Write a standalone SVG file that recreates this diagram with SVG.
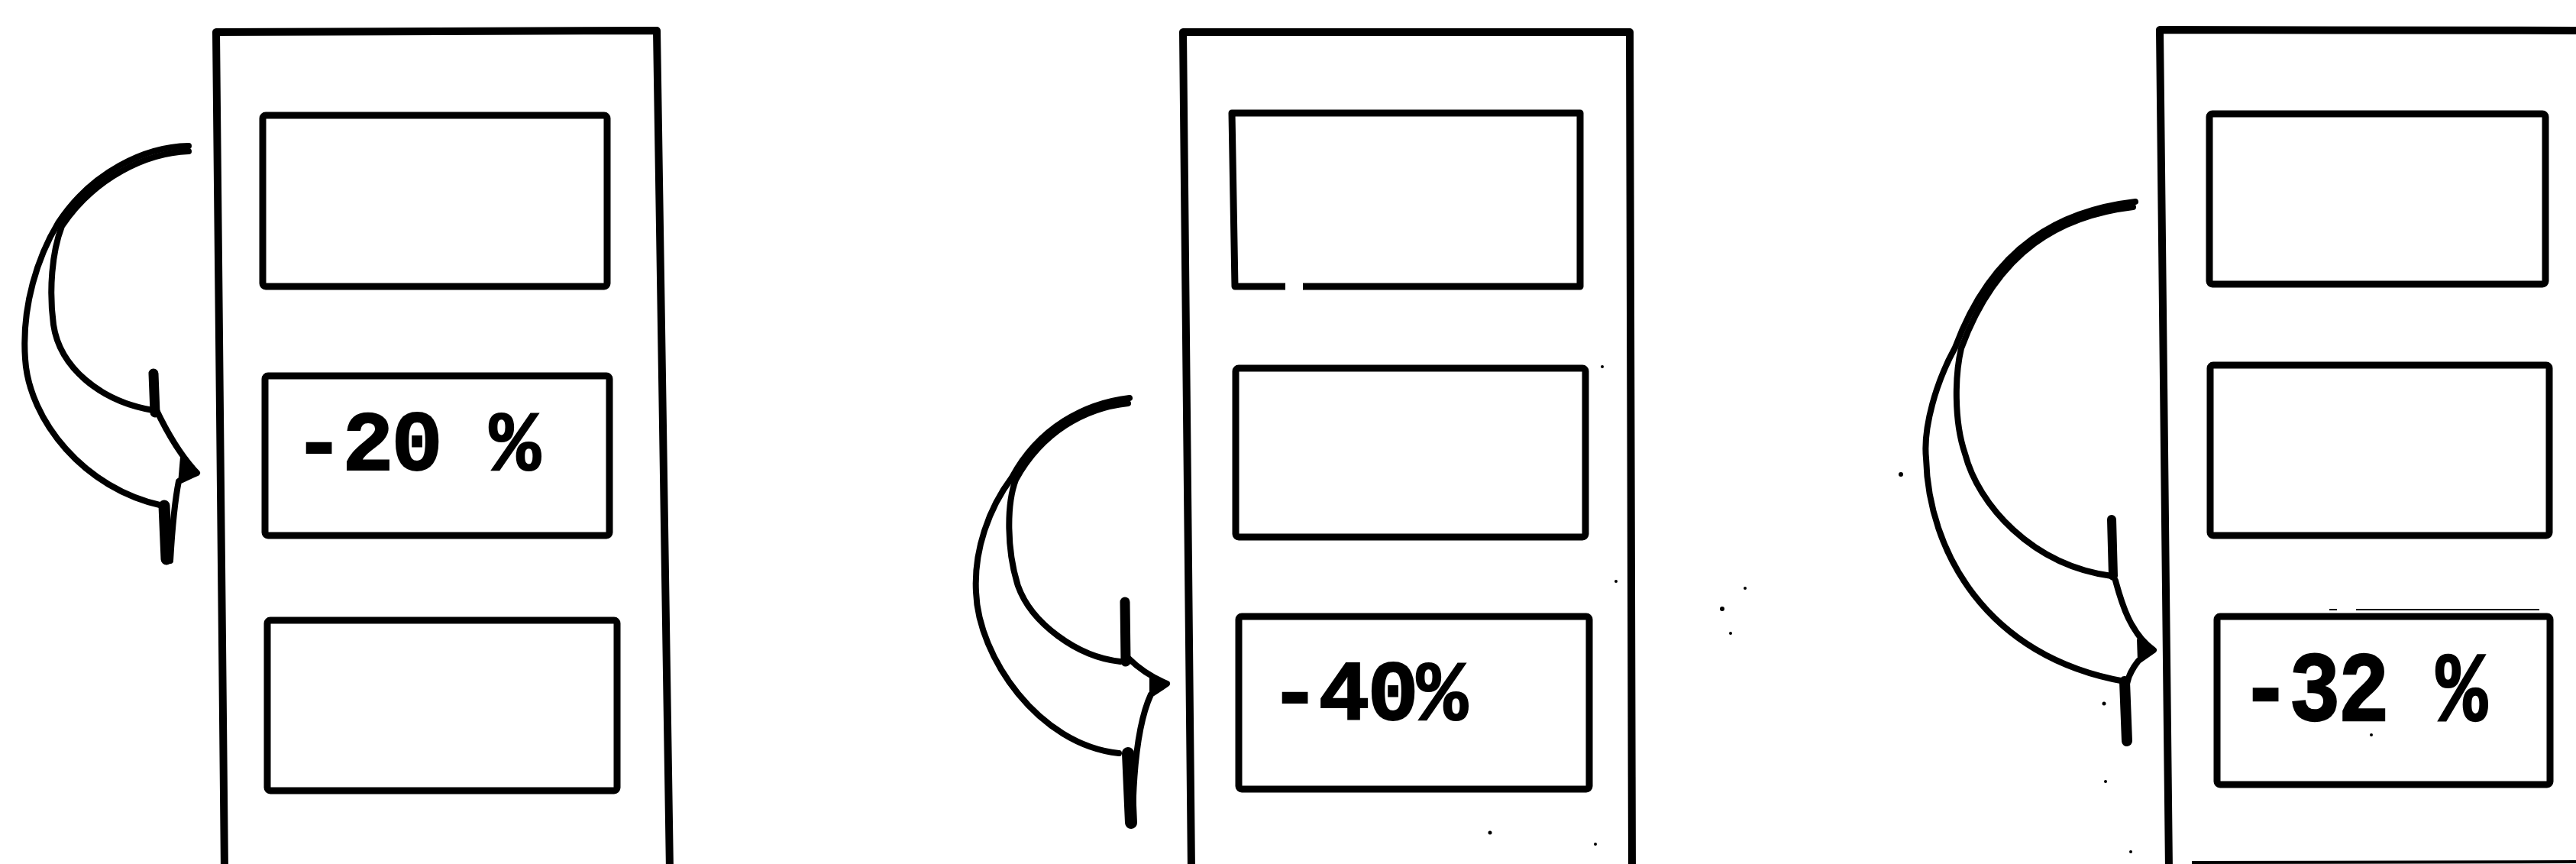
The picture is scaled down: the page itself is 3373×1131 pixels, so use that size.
<svg xmlns="http://www.w3.org/2000/svg" width="3373" height="1131" viewBox="0 0 3373 1131">
<style>
.frame{fill:none;stroke:#000;stroke-width:10;stroke-linejoin:round}
.box{fill:none;stroke:#000;stroke-width:9;stroke-linejoin:round}
.arr{fill:none;stroke:#000;stroke-width:8;stroke-linecap:round;stroke-linejoin:round}
.bar{fill:none;stroke:#000;stroke-width:13;stroke-linecap:round}
.thin{fill:none;stroke:#000;stroke-width:2}
.lbl{font-family:"Liberation Mono","DejaVu Sans Mono",monospace;font-weight:bold;font-size:112px;letter-spacing:-3px;fill:#000;stroke:#000;stroke-width:2;font-variant-numeric:slashed-zero;font-feature-settings:"zero" 1}
.speck{fill:#000}
</style>
<rect width="3373" height="1131" fill="#fff"/>

<g id="panel1">
  <path class="frame" d="M294,1140 L283,42 L860,40 L877,1140"/>
  <rect id="p1-box1" class="box" x="344" y="151" width="451" height="224" rx="4"/>
  <g id="p1-box2">
    <rect class="box" x="347" y="492" width="451" height="209" rx="4"/>
    <text class="lbl" x="384" y="615">-20 %</text>
  </g>
  <rect id="p1-box3" class="box" x="350" y="812" width="458" height="223" rx="4"/>
</g>

<g id="panel2">
  <path class="frame" d="M1560,1140 L1549,42 L2134,42 L2137,1140"/>
  <path id="p2-box1" class="box" d="M1683,375 L1617,375 L1613,148 L2069,148 L2069,375 L1706,375"/>
  <rect id="p2-box2" class="box" x="1618" y="482" width="458" height="221" rx="4"/>
  <g id="p2-box3">
    <rect class="box" x="1622" y="807" width="459" height="226" rx="4"/>
    <text class="lbl" x="1662" y="942">-40%</text>
  </g>
</g>

<g id="panel3">
  <path class="frame" d="M2840,1140 L2828,39 L3380,40"/>
  <rect id="p3-box1" class="box" x="2893" y="149" width="440" height="223" rx="4"/>
  <rect id="p3-box2" class="box" x="2894" y="478" width="444" height="223" rx="4"/>
  <g id="p3-box3">
    <rect class="box" x="2903" y="807" width="436" height="220" rx="4"/>
    <text class="lbl" transform="translate(2933,943) scale(1,1.16)" x="0" y="0">-32 %</text>
  </g>
  <path class="thin" d="M3050,798 L3060,798 M3085,798 L3325,798"/>
  <path d="M2870,1129 L3373,1128" stroke="#000" stroke-width="4" fill="none"/>
</g>

<g id="connectors">
  <g id="arrow1">
    <path class="arr" d="M247,191 C190,192 120,225 76,292 C50,335 28,400 33,470 C38,550 110,640 213,662"/>
    <path class="arr" d="M247,198 C192,200 124,232 81,296 C68,330 64,380 70,425 C78,480 130,525 200,537"/>
    <path class="bar" d="M201,489 L203,540"/>
    <path class="arr" d="M204,535 C214,556 232,592 258,619 L234,630 C228,660 225,700 223,734"/>
    <path class="bar" style="stroke-width:15" d="M215,662 L218,732"/>
    <path class="speck" d="M236,598 L258,619 L233,633 Z"/>
  </g>
  <g id="arrow2">
    <path class="arr" d="M1479,521 C1420,528 1360,560 1325,625 C1295,665 1275,720 1278,775 C1281,860 1360,975 1465,986"/>
    <path class="arr" d="M1477,528 C1420,534 1364,566 1330,628 C1318,660 1318,720 1333,767 C1350,815 1410,860 1467,866"/>
    <path class="bar" d="M1473,788 L1474,866"/>
    <path class="arr" d="M1478,862 C1488,872 1505,885 1528,895 L1507,909 C1495,935 1484,980 1483,1079"/>
    <path class="bar" style="stroke-width:16" d="M1477,986 L1481,1077"/>
    <path class="speck" d="M1505,880 L1528,895 L1505,912 Z"/>
  </g>
  <g id="arrow3">
    <path class="arr" d="M2796,264 C2700,275 2610,320 2560,455 C2535,500 2518,560 2522,600 C2525,720 2600,860 2782,892"/>
    <path class="arr" d="M2793,271 C2700,282 2616,326 2568,456 C2560,490 2558,550 2573,594 C2590,660 2660,740 2765,754"/>
    <path class="bar" style="stroke-width:12" d="M2765,680 L2767,754"/>
    <path class="arr" d="M2770,760 C2778,790 2790,830 2820,851 L2800,865 C2792,875 2787,885 2785,895 L2785,972"/>
    <path class="bar" style="stroke-width:14" d="M2782,892 L2785,970"/>
    <path class="speck" d="M2798,836 L2820,851 L2799,866 Z"/>
  </g>
</g>

<g id="specks">
  <circle class="speck" cx="2098" cy="480" r="2"/>
  <circle class="speck" cx="2116" cy="761" r="2"/>
  <circle class="speck" cx="1951" cy="1090" r="2.5"/>
  <circle class="speck" cx="2089" cy="1105" r="2"/>
  <circle class="speck" cx="2757" cy="1023" r="2"/>
  <circle class="speck" cx="2790" cy="1115" r="2"/>
  <circle class="speck" cx="2755" cy="921" r="2.5"/>
  <circle class="speck" cx="2489" cy="621" r="3"/>
  <circle class="speck" cx="3105" cy="962" r="2"/>
  <circle class="speck" cx="2285" cy="770" r="2"/>
  <circle class="speck" cx="2255" cy="797" r="3"/>
  <circle class="speck" cx="2266" cy="829" r="2"/>
</g>
</svg>
